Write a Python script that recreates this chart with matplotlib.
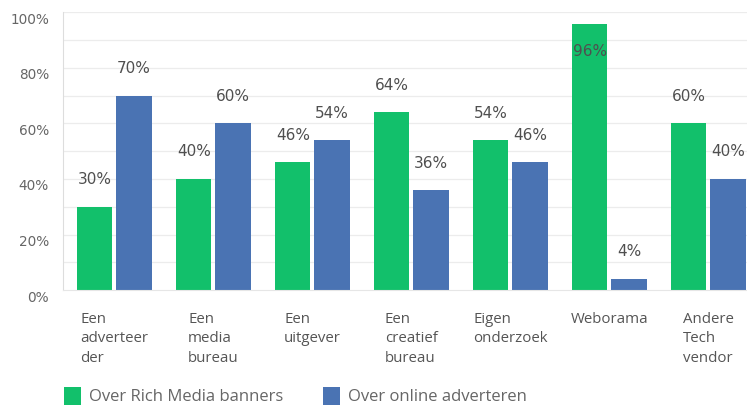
import matplotlib
matplotlib.use("Agg")
import matplotlib.pyplot as plt
import matplotlib.transforms as mtransforms
from matplotlib.patches import Patch
import numpy as np

categories = ["Een\nadverteer\nder", "Een\nmedia\nbureau", "Een\nuitgever",
              "Een\ncreatief\nbureau", "Eigen\nonderzoek", "Weborama",
              "Andere\nTech\nvendor"]
rich_media = [30, 40, 46, 64, 54, 96, 60]
online = [70, 60, 54, 36, 46, 4, 40]
series_names = ["Over Rich Media banners", "Over online adverteren"]
yticks = [0, 20, 40, 60, 80, 100]

GREEN = "#12c06b"
BLUE = "#4a73b3"
TEXT = "#555555"

W, H = 747, 405
fig = plt.figure(figsize=(W / 100, H / 100), dpi=100)
ax = fig.add_axes([63 / W, (H - 290) / H, 1 - 63 / W, (290 - 12.5) / H])

x = np.arange(len(categories))
bw = 0.355
gap = 0.04
xg = x - (bw + gap) / 2
xb = x + (bw + gap) / 2
bars_g = ax.bar(xg, rich_media, width=bw, color=GREEN, zorder=2)
bars_b = ax.bar(xb, online, width=bw, color=BLUE, zorder=2)

ax.set_xlim(-0.52, 6.39)
ax.set_ylim(0, 100)

# light grid every 10%
for v in range(10, 101, 10):
    ax.axhline(v, color="#ececec", lw=0.9, zorder=0)

for s in ["top", "right"]:
    ax.spines[s].set_visible(False)
ax.spines["left"].set_color("#dddddd")
ax.spines["bottom"].set_color("#e6e6e6")

ax.set_yticks(yticks)
ax.set_yticklabels([f"{v}%" for v in yticks], fontsize=9.8, color="#666666",
                   family="DejaVu Sans")
ax.tick_params(axis="y", length=0, pad=10)
shift = mtransforms.ScaledTranslation(0, -6 / 100, fig.dpi_scale_trans)
for lbl in ax.get_yticklabels():
    lbl.set_transform(lbl.get_transform() + shift)

# category names: block centred under each group, lines left-aligned
ax.set_xticks([])
for xi, cat in zip(x, categories):
    ax.annotate(cat, xy=(xi, 0), xycoords="data",
                xytext=(0, -15.5), textcoords="offset points",
                ha="center", va="top", multialignment="left",
                fontsize=10.8, color=TEXT, family="Open Sans",
                linespacing=1.42)

# value labels
for bars, vals in ((bars_g, rich_media), (bars_b, online)):
    for b, v in zip(bars, vals):
        cx = b.get_x() + b.get_width() / 2
        off = 19.5 if v < 90 else -20
        ax.annotate(f"{v}%", xy=(cx, v), xytext=(0, off),
                    textcoords="offset points", ha="center", va="center",
                    fontsize=11, color="#4f4f4f", family="DejaVu Sans",
                    zorder=3)

handles = [Patch(facecolor=GREEN, edgecolor="none"),
           Patch(facecolor=BLUE, edgecolor="none")]
leg = fig.legend(handles, series_names, loc="center left",
                 bbox_to_anchor=(49 / W, (H - 396) / H), ncol=2,
                 frameon=False, handlelength=1.0, handleheight=1.3,
                 handletextpad=0.5, columnspacing=2.4,
                 prop={"family": "Open Sans", "size": 12})
for t in leg.get_texts():
    t.set_color("#666666")

fig.savefig("out.png", dpi=100)
